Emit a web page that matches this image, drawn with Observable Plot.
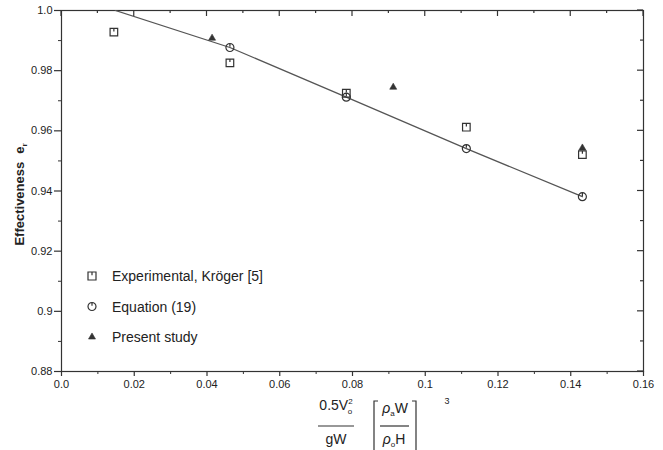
<!DOCTYPE html>
<html>
<head>
<meta charset="utf-8">
<script src="https://cdn.jsdelivr.net/npm/d3@7"></script>
<script src="https://cdn.jsdelivr.net/npm/@observablehq/plot@0.6"></script>
<style>
  html, body { margin: 0; padding: 0; background: #fff; }
  #chart { width: 663px; height: 450px; }
</style>
</head>
<body>
<div id="chart"></div>
<script>
// ---- data ----
const expX = [0.0144, 0.0463, 0.0783, 0.1113, 0.1432];
const expY = [0.9928, 0.9826, 0.9725, 0.9612, 0.9521];
const eqX = [0.0463, 0.0783, 0.1113, 0.1432];
const eqY = [0.9877, 0.9712, 0.9541, 0.9381];
const presentX = [0.0414, 0.0912, 0.1432];
const presentY = [0.9908, 0.9745, 0.9543];
const lineX = [0.0148, 0.0463, 0.0783, 0.1113, 0.1432];
const lineY = [1.0, 0.9877, 0.9712, 0.9541, 0.9381];

const xTicks = [0, 0.02, 0.04, 0.06, 0.08, 0.10, 0.12, 0.14, 0.16];
const xTickLabels = ["0.0", "0.02", "0.04", "0.06", "0.08", "0.1", "0.12", "0.14", "0.16"];
const xMinor = [0.01, 0.03, 0.05, 0.07, 0.09, 0.11, 0.13, 0.15];
const yTicks = [0.88, 0.90, 0.92, 0.94, 0.96, 0.98, 1.0];
const yTickLabels = ["0.88", "0.9", "0.92", "0.94", "0.96", "0.98", "1.0"];
const yMinor = [0.89, 0.91, 0.93, 0.95, 0.97, 0.99];
const legendLabels = ["Experimental, Kröger [5]", "Equation (19)", "Present study"];
const yTitle = "Effectiveness";

const zip = (xs, ys) => xs.map((x, i) => ({x, y: ys[i]}));
const expData = zip(expX, expY);
const eqData = zip(eqX, eqY);
const presentData = zip(presentX, presentY);
const lineData = zip(lineX, lineY);

// custom plotter-style symbols
const squareTick = {
  draw(ctx, size) {
    const r = Math.sqrt(size / Math.PI);
    ctx.moveTo(-r, -r); ctx.lineTo(r, -r); ctx.lineTo(r, r); ctx.lineTo(-r, r); ctx.closePath();
    ctx.moveTo(0, -r); ctx.lineTo(0, -r * 0.2);
  }
};
const circleTick = {
  draw(ctx, size) {
    const r = Math.sqrt(size / Math.PI);
    ctx.moveTo(r, 0); ctx.arc(0, 0, r, 0, 2 * Math.PI);
    ctx.moveTo(0, -r); ctx.lineTo(0, -r * 0.2);
  }
};

const ink = "#333";
const font = "'Liberation Sans', Arial, sans-serif";

const plot = Plot.plot({
  width: 663,
  height: 450,
  marginLeft: 61,
  marginRight: 20,
  marginTop: 10,
  marginBottom: 79,
  style: {fontFamily: font, fontSize: "11px", color: ink, background: "#fff"},
  x: {domain: [0, 0.16]},
  y: {domain: [0.88, 1.0]},
  marks: [
    Plot.frame({stroke: ink, strokeWidth: 1.2}),
    Plot.axisX({ticks: xTicks, tickFormat: (d, i) => xTickLabels[i], tickSize: 5, tickPadding: 4, label: null, stroke: ink, fill: "#222", strokeWidth: 1.2}),
    Plot.axisX({ticks: xMinor, text: null, tickSize: 3, label: null, stroke: ink}),
    Plot.axisY({ticks: yTicks, tickFormat: (d, i) => yTickLabels[i], tickSize: 7, tickPadding: 2, label: null, stroke: ink, fill: "#222", strokeWidth: 1.2}),
    Plot.axisY({ticks: yMinor, text: null, tickSize: 3, label: null, stroke: ink}),
    Plot.line(lineData, {x: "x", y: "y", stroke: "#555", strokeWidth: 1.3, clip: true}),
    Plot.dot(expData, {x: "x", y: "y", symbol: squareTick, r: 3.8, stroke: ink, strokeWidth: 1.2, fill: "none"}),
    Plot.dot(eqData, {x: "x", y: "y", symbol: circleTick, r: 4, stroke: ink, strokeWidth: 1.2, fill: "none"}),
    Plot.dot(presentData, {x: "x", y: "y", symbol: "triangle", r: 2.6, fill: ink, stroke: ink, strokeWidth: 0.6})
  ]
});

document.getElementById("chart").appendChild(plot);

const svg = d3.select(plot);
const sx = plot.scale("x"), sy = plot.scale("y");
const x0 = sx.apply(0), x1 = sx.apply(0.16);
const y0 = sy.apply(0.88), y1 = sy.apply(1.0);

// inward ticks on top and right frame
const g = svg.append("g").attr("stroke", ink).attr("stroke-width", 1.2);
xTicks.forEach(v => g.append("line").attr("x1", sx.apply(v)).attr("x2", sx.apply(v)).attr("y1", y1).attr("y2", y1 + 6));
xMinor.forEach(v => g.append("line").attr("x1", sx.apply(v)).attr("x2", sx.apply(v)).attr("y1", y1).attr("y2", y1 + 3));
yTicks.forEach(v => g.append("line").attr("y1", sy.apply(v)).attr("y2", sy.apply(v)).attr("x1", x1).attr("x2", x1 - 6));
yMinor.forEach(v => g.append("line").attr("y1", sy.apply(v)).attr("y2", sy.apply(v)).attr("x1", x1).attr("x2", x1 - 3));

// y-axis title
const yt = svg.append("text")
  .attr("transform", `translate(24, ${(y0 + y1) / 2 + 4}) rotate(-90)`)
  .attr("text-anchor", "middle")
  .attr("font-family", font).attr("font-size", 13).attr("font-weight", "bold").attr("fill", "#222");
yt.append("tspan").text(yTitle);
yt.append("tspan").attr("dx", 8).text("e");
yt.append("tspan").attr("font-size", 8).attr("dy", 3).text("r");

// legend
const lg = svg.append("g").attr("font-family", font).attr("font-size", 14).attr("fill", "#222").attr("text-anchor", "start");
const legendSyms = [squareTick, circleTick, d3.symbolTriangle];
legendLabels.forEach((lab, i) => {
  const yy = 276 + i * 30.5;
  const sym = d3.symbol(legendSyms[i], i === 2 ? 2.6 * 2.6 * Math.PI : 4 * 4 * Math.PI);
  lg.append("path").attr("d", sym()).attr("transform", `translate(92, ${yy})`)
    .attr("fill", i === 2 ? ink : "none").attr("stroke", ink).attr("stroke-width", i === 2 ? 0.6 : 1.2);
  lg.append("text").attr("x", 112).attr("y", yy + 5).attr("text-anchor", "start").text(lab);
});

// x-axis title formula
const ft = svg.append("g").attr("font-family", font).attr("fill", "#222").attr("stroke", ink);
const num = ft.append("text").attr("x", 336).attr("y", 410).attr("text-anchor", "middle").attr("font-size", 14).attr("stroke", "none");
num.append("tspan").text("0.5V");
num.append("tspan").attr("font-size", 8).attr("dy", -6).text("2");
num.append("tspan").attr("font-size", 8).attr("dx", -5).attr("dy", 10).text("o");
ft.append("line").attr("x1", 318).attr("x2", 354).attr("y1", 426).attr("y2", 426).attr("stroke-width", 1.2);
ft.append("text").attr("x", 336).attr("y", 444).attr("text-anchor", "middle").attr("font-size", 14).attr("stroke", "none").text("gW");
// brackets
ft.append("path").attr("d", "M378,401 H374 V452").attr("fill", "none").attr("stroke-width", 1.2);
ft.append("path").attr("d", "M412,401 H416 V452").attr("fill", "none").attr("stroke-width", 1.2);
const n2 = ft.append("text").attr("x", 395).attr("y", 413).attr("text-anchor", "middle").attr("font-size", 14).attr("stroke", "none");
n2.append("tspan").attr("font-style", "italic").text("ρ");
n2.append("tspan").attr("font-size", 8).attr("dy", 3).text("a");
n2.append("tspan").attr("dy", -3).text("W");
ft.append("line").attr("x1", 380).attr("x2", 409).attr("y1", 426).attr("y2", 426).attr("stroke-width", 1.2);
const d2 = ft.append("text").attr("x", 394).attr("y", 444).attr("text-anchor", "middle").attr("font-size", 14).attr("stroke", "none");
d2.append("tspan").attr("font-style", "italic").text("ρ");
d2.append("tspan").attr("font-size", 8).attr("dy", 3).text("o");
d2.append("tspan").attr("dy", -3).text("H");
ft.append("text").attr("x", 447).attr("y", 404).attr("font-size", 9).attr("stroke", "none").text("3");
</script>
</body>
</html>
